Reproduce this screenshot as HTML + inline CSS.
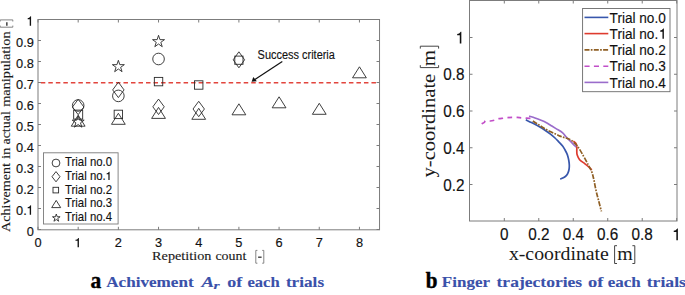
<!DOCTYPE html>
<html><head><meta charset="utf-8"><style>
html,body{margin:0;padding:0;background:#fff;width:685px;height:295px;overflow:hidden}
svg{display:block}
.s{font-family:"Liberation Sans",sans-serif}
.r{font-family:"Liberation Serif",serif}
</style></head><body>
<svg width="685" height="295" viewBox="0 0 685 295"><line x1="40.8" y1="82.8" x2="379.53" y2="82.8" stroke="#e2453d" stroke-width="1.6" stroke-dasharray="4.5 3.015"/>
<rect x="38.0" y="19.5" width="341.53" height="210.30" fill="none" stroke="#7c7c7c" stroke-width="1"/>
<path d="M38.00 229.8V226.8M38.00 19.5V22.5M78.18 229.8V226.8M78.18 19.5V22.5M118.36 229.8V226.8M118.36 19.5V22.5M158.54 229.8V226.8M158.54 19.5V22.5M198.72 229.8V226.8M198.72 19.5V22.5M238.90 229.8V226.8M238.90 19.5V22.5M279.08 229.8V226.8M279.08 19.5V22.5M319.26 229.8V226.8M319.26 19.5V22.5M359.44 229.8V226.8M359.44 19.5V22.5M38.0 229.50H41.0M379.53 229.50H376.53M38.0 208.50H41.0M379.53 208.50H376.53M38.0 187.50H41.0M379.53 187.50H376.53M38.0 166.50H41.0M379.53 166.50H376.53M38.0 145.50H41.0M379.53 145.50H376.53M38.0 124.50H41.0M379.53 124.50H376.53M38.0 103.50H41.0M379.53 103.50H376.53M38.0 82.50H41.0M379.53 82.50H376.53M38.0 61.50H41.0M379.53 61.50H376.53M38.0 40.50H41.0M379.53 40.50H376.53M38.0 19.50H41.0M379.53 19.50H376.53" stroke="#7c7c7c" stroke-width="1" fill="none"/>
<g class="s" font-size="12.8" fill="#111" stroke="#111" stroke-width="0.15"><text transform="translate(33.9 235.70) scale(1 1.05)" text-anchor="end">0</text><text transform="translate(26.78 214.70) scale(1 1.05)" text-anchor="end">0.</text><text transform="translate(33.9 193.70) scale(1 1.05)" text-anchor="end">0.2</text><text transform="translate(33.9 172.70) scale(1 1.05)" text-anchor="end">0.3</text><text transform="translate(33.9 151.70) scale(1 1.05)" text-anchor="end">0.4</text><text transform="translate(33.9 130.70) scale(1 1.05)" text-anchor="end">0.5</text><text transform="translate(33.9 109.70) scale(1 1.05)" text-anchor="end">0.6</text><text transform="translate(33.9 88.70) scale(1 1.05)" text-anchor="end">0.7</text><text transform="translate(33.9 67.70) scale(1 1.05)" text-anchor="end">0.8</text><text transform="translate(33.9 46.70) scale(1 1.05)" text-anchor="end">0.9</text><text transform="translate(38.00 247.3) scale(1 1.05)" text-anchor="middle">0</text><text transform="translate(118.36 247.3) scale(1 1.05)" text-anchor="middle">2</text><text transform="translate(158.54 247.3) scale(1 1.05)" text-anchor="middle">3</text><text transform="translate(198.72 247.3) scale(1 1.05)" text-anchor="middle">4</text><text transform="translate(238.90 247.3) scale(1 1.05)" text-anchor="middle">5</text><text transform="translate(279.08 247.3) scale(1 1.05)" text-anchor="middle">6</text><text transform="translate(319.26 247.3) scale(1 1.05)" text-anchor="middle">7</text><text transform="translate(359.44 247.3) scale(1 1.05)" text-anchor="middle">8</text></g>
<g class="r" font-size="11.6" fill="#1a1a1a" stroke="#1a1a1a" stroke-width="0.12"><text x="152.10" y="259.60" textLength="59.30" lengthAdjust="spacingAndGlyphs">Repetition</text><text x="215.40" y="259.60" textLength="31.00" lengthAdjust="spacingAndGlyphs">count</text><g transform="translate(9.8 0) rotate(-90)"><text x="-232.00" y="0.00" textLength="68.90" lengthAdjust="spacingAndGlyphs">Achivement</text><text x="-159.10" y="0.00" textLength="11.50" lengthAdjust="spacingAndGlyphs">in</text><text x="-144.60" y="0.00" textLength="33.50" lengthAdjust="spacingAndGlyphs">actual</text><text x="-106.80" y="0.00" textLength="75.40" lengthAdjust="spacingAndGlyphs">manipulation</text></g></g>
<path d="M257.40 250.40H255.80V263.20H257.40M262.20 250.40H263.80V263.20H262.20" fill="none" stroke="#777" stroke-width="0.9"/>
<path d="M258.1 257.2H261.6" stroke="#333" stroke-width="1.3"/>
<g transform="translate(9.8 0) rotate(-90)"><path d="M-25.60 -9.60H-27.20V3.00H-25.60M-21.50 -9.60H-19.90V3.00H-21.50" fill="none" stroke="#777" stroke-width="0.9"/><path d="M-25.7 -2.95H-22.3" stroke="#333" stroke-width="1.4"/></g>
<g fill="none" stroke="#2a2a2a" stroke-width="0.9"><circle cx="78.18" cy="105.50" r="5.8"/><path d="M78.18 99.30L83.88 107.00L78.18 114.70L72.48 107.00Z"/><rect x="73.68" y="110.10" width="9.00" height="9.00"/><path d="M78.18 115.20L85.08 126.20L71.28 126.20Z"/><polygon points="78.18,115.80 79.59,120.15 84.17,120.15 80.47,122.84 81.88,127.20 78.18,124.51 74.48,127.20 75.89,122.84 72.19,120.15 76.77,120.15"/><polygon points="118.36,60.30 119.77,64.65 124.35,64.65 120.65,67.34 122.06,71.70 118.36,69.01 114.66,71.70 116.07,67.34 112.37,64.65 116.95,64.65"/><path d="M118.36 82.20L124.06 89.90L118.36 97.60L112.66 89.90Z"/><circle cx="118.36" cy="95.90" r="5.8"/><rect x="114.16" y="110.20" width="8.40" height="8.40"/><path d="M118.36 113.30L125.26 124.30L111.46 124.30Z"/><polygon points="158.54,35.30 159.95,39.65 164.53,39.65 160.83,42.34 162.24,46.70 158.54,44.01 154.84,46.70 156.25,42.34 152.55,39.65 157.13,39.65"/><circle cx="158.54" cy="59.00" r="5.8"/><rect x="154.34" y="77.40" width="8.40" height="8.40"/><path d="M158.54 99.10L164.24 106.80L158.54 114.50L152.84 106.80Z"/><path d="M158.54 107.40L165.44 118.40L151.64 118.40Z"/><rect x="194.52" y="80.80" width="8.40" height="8.40"/><path d="M198.72 101.30L204.42 109.00L198.72 116.70L193.02 109.00Z"/><path d="M198.72 108.30L205.62 119.30L191.82 119.30Z"/><path d="M238.90 51.80L244.60 59.80L238.90 67.80L233.20 59.80Z"/><rect x="234.80" y="56.10" width="8.20" height="8.20"/><path d="M238.90 103.80L245.80 114.80L232.00 114.80Z"/><path d="M279.08 96.80L285.98 107.80L272.18 107.80Z"/><path d="M319.26 103.30L326.16 114.30L312.36 114.30Z"/><path d="M359.44 66.80L366.34 77.80L352.54 77.80Z"/></g>
<text transform="translate(257.6 58.6) scale(1 1.06)" class="s" font-size="11.2" fill="#111" stroke="#111" stroke-width="0.12" textLength="77.3" lengthAdjust="spacingAndGlyphs">Success criteria</text>
<line x1="282.3" y1="61.6" x2="254.5" y2="79.8" stroke="#111" stroke-width="1.2"/>
<path d="M251.6 81.7L253.3 76.9L256.8 81.2Z" fill="#111"/>
<rect x="43.5" y="152.8" width="74.6" height="71.2" fill="#fff" stroke="#7a7a7a" stroke-width="0.9"/>
<g fill="none" stroke="#2a2a2a" stroke-width="0.9"><circle cx="56.00" cy="163.00" r="3.9"/><path d="M56.00 171.60L60.00 176.70L56.00 181.80L52.00 176.70Z"/><rect x="53.00" y="187.30" width="5.60" height="5.60"/><path d="M56.20 200.40L60.70 207.60L51.70 207.60Z"/><polygon points="56.30,214.00 57.20,216.76 60.10,216.76 57.75,218.47 58.65,221.24 56.30,219.53 53.95,221.24 54.85,218.47 52.50,216.76 55.40,216.76"/></g>
<g class="s" font-size="11.4" fill="#111" stroke="#111" stroke-width="0.12"><text transform="translate(65.0 166.40) scale(1 1.04)">Trial no.0</text><text transform="translate(65.0 180.07) scale(1 1.04)">Trial no.</text><text transform="translate(65.0 193.74) scale(1 1.04)">Trial no.2</text><text transform="translate(65.0 207.41) scale(1 1.04)">Trial no.3</text><text transform="translate(65.0 221.08) scale(1 1.04)">Trial no.4</text></g>
<rect x="469.5" y="0.5" width="207.50" height="220.50" fill="none" stroke="#7c7c7c" stroke-width="1"/>
<path d="M504.30 221.0V218.0M504.30 0.5V3.5M538.78 221.0V218.0M538.78 0.5V3.5M573.26 221.0V218.0M573.26 0.5V3.5M607.74 221.0V218.0M607.74 0.5V3.5M642.22 221.0V218.0M642.22 0.5V3.5M676.70 221.0V218.0M676.70 0.5V3.5M469.5 184.50H472.50M677.0 184.50H674.00M469.5 147.75H472.50M677.0 147.75H674.00M469.5 111.00H472.50M677.0 111.00H674.00M469.5 74.25H472.50M677.0 74.25H674.00M469.5 37.50H472.50M677.0 37.50H674.00" stroke="#7c7c7c" stroke-width="1" fill="none"/>
<g class="s" font-size="15.3" fill="#111" stroke="#111" stroke-width="0.15"><text transform="translate(504.30 240.2) scale(1 1.12)" text-anchor="middle">0</text><text transform="translate(538.78 240.2) scale(1 1.12)" text-anchor="middle">0.2</text><text transform="translate(573.26 240.2) scale(1 1.12)" text-anchor="middle">0.4</text><text transform="translate(607.74 240.2) scale(1 1.12)" text-anchor="middle">0.6</text><text transform="translate(642.22 240.2) scale(1 1.12)" text-anchor="middle">0.8</text><text transform="translate(464.4 190.50) scale(1 1.12)" text-anchor="end">0.2</text><text transform="translate(464.4 153.75) scale(1 1.12)" text-anchor="end">0.4</text><text transform="translate(464.4 117.00) scale(1 1.12)" text-anchor="end">0.6</text><text transform="translate(464.4 80.25) scale(1 1.12)" text-anchor="end">0.8</text></g>
<g class="r" font-size="17.8" fill="#1a1a1a"><text x="508.90" y="259.60" textLength="100.00" lengthAdjust="spacingAndGlyphs">x-coordinate</text><text x="617.30" y="259.60" textLength="15.50" lengthAdjust="spacingAndGlyphs">m</text><g transform="translate(434.7 0) rotate(-90)"><text x="-177.40" y="0.00" textLength="103.60" lengthAdjust="spacingAndGlyphs">y-coordinate</text><text x="-66.20" y="0.00" textLength="16.40" lengthAdjust="spacingAndGlyphs">m</text></g></g>
<path d="M617.00 245.70H614.60V263.50H617.00M632.40 245.70H634.80V263.50H632.40" fill="none" stroke="#444" stroke-width="1"/>
<g transform="translate(434.7 0) rotate(-90)"><path d="M-65.20 -14.40H-67.60V3.90H-65.20M-48.60 -14.40H-46.20V3.90H-48.60" fill="none" stroke="#444" stroke-width="1"/></g>
<path d="M481.70 123.90C482.13 123.63 483.62 122.83 484.30 122.30C484.98 121.77 484.80 120.92 485.80 120.70C486.80 120.48 488.87 121.08 490.30 121.00C491.73 120.92 492.97 120.58 494.40 120.20C495.83 119.82 497.42 119.03 498.90 118.70C500.38 118.37 501.82 118.38 503.30 118.20C504.78 118.02 506.30 117.73 507.80 117.60C509.30 117.47 510.75 117.43 512.30 117.40C513.85 117.37 515.60 117.33 517.10 117.40C518.60 117.47 519.78 117.67 521.30 117.80C522.82 117.93 524.62 118.08 526.20 118.20C527.78 118.32 530.03 118.45 530.80 118.50" fill="none" stroke="#c24ec8" stroke-width="1.7" stroke-dasharray="4.7 4.4"/>
<path d="M525.80 119.80C526.83 120.30 529.80 121.68 532.00 122.80C534.20 123.92 536.83 125.27 539.00 126.50C541.17 127.73 543.03 128.88 545.00 130.20C546.97 131.52 549.13 133.10 550.80 134.40C552.47 135.70 553.72 136.80 555.00 138.00C556.28 139.20 557.20 140.23 558.50 141.60C559.80 142.97 561.67 144.72 562.80 146.20C563.93 147.68 564.63 149.30 565.30 150.50C565.97 151.70 566.37 152.40 566.80 153.40C567.23 154.40 567.57 155.32 567.90 156.50C568.23 157.68 568.57 159.08 568.80 160.50C569.03 161.92 569.25 163.58 569.30 165.00C569.35 166.42 569.30 167.73 569.10 169.00C568.90 170.27 568.53 171.53 568.10 172.60C567.67 173.67 567.22 174.58 566.50 175.40C565.78 176.22 564.85 176.88 563.80 177.50C562.75 178.12 560.80 178.83 560.20 179.10" fill="none" stroke="#3857ac" stroke-width="1.7" stroke-linejoin="round"/>
<path d="M573.30 141.20C573.62 141.43 574.68 142.03 575.20 142.60C575.72 143.17 576.13 143.78 576.40 144.60C576.67 145.42 576.73 146.35 576.80 147.50C576.87 148.65 576.73 150.25 576.80 151.50C576.87 152.75 576.73 153.63 577.20 155.00C577.67 156.37 578.30 158.23 579.60 159.70C580.90 161.17 583.43 162.55 585.00 163.80C586.57 165.05 587.87 166.18 589.00 167.20C590.13 168.22 591.33 169.45 591.80 169.90" fill="none" stroke="#de3b2e" stroke-width="1.7" stroke-linejoin="round"/>
<path d="M529.10 116.10C530.08 116.42 533.02 117.30 535.00 118.00C536.98 118.70 539.17 119.55 541.00 120.30C542.83 121.05 544.37 121.65 546.00 122.50C547.63 123.35 549.13 124.38 550.80 125.40C552.47 126.42 554.02 127.37 556.00 128.60C557.98 129.83 561.03 131.43 562.70 132.80C564.37 134.17 564.95 135.63 566.00 136.80C567.05 137.97 567.92 138.72 569.00 139.80C570.08 140.88 571.30 142.07 572.50 143.30C573.70 144.53 575.58 146.55 576.20 147.20" fill="none" stroke="#9a6ccb" stroke-width="1.7" stroke-linejoin="round"/>
<path d="M532.80 121.00C533.67 121.55 536.18 123.13 538.00 124.30C539.82 125.47 541.87 126.88 543.70 128.00C545.53 129.12 547.02 130.00 549.00 131.00C550.98 132.00 553.77 133.15 555.60 134.00C557.43 134.85 558.60 135.52 560.00 136.10C561.40 136.68 562.75 137.10 564.00 137.50C565.25 137.90 566.27 138.02 567.50 138.50C568.73 138.98 569.73 139.12 571.40 140.40C573.07 141.68 575.47 143.55 577.50 146.20C579.53 148.85 581.78 153.13 583.60 156.30C585.42 159.47 587.03 162.58 588.40 165.20C589.77 167.82 590.90 169.63 591.80 172.00C592.70 174.37 593.10 176.33 593.80 179.40C594.50 182.47 595.20 186.87 596.00 190.40C596.80 193.93 597.70 197.10 598.60 200.60C599.50 204.10 600.93 209.60 601.40 211.40" fill="none" stroke="#8f5f24" stroke-width="1.7" stroke-dasharray="5 1.3 1.7 1.3"/>
<rect x="582.6" y="8.5" width="87.4" height="83.2" fill="#fff" stroke="#6a6a6a" stroke-width="0.9"/>
<line x1="584.5" y1="17.4" x2="608.3" y2="17.4" stroke="#3857ac" stroke-width="1.6"/><line x1="584.5" y1="33.6" x2="608.3" y2="33.6" stroke="#de3b2e" stroke-width="1.6"/><line x1="584.5" y1="49.9" x2="608.3" y2="49.9" stroke="#8f5f24" stroke-width="1.6" stroke-dasharray="5 1.3 1.7 1.3"/><line x1="584.5" y1="66.2" x2="608.3" y2="66.2" stroke="#c24ec8" stroke-width="1.6" stroke-dasharray="5.1 4.3"/><line x1="584.5" y1="82.4" x2="608.3" y2="82.4" stroke="#9a6ccb" stroke-width="1.6"/>
<g class="s" font-size="13.6" fill="#111" stroke="#111" stroke-width="0.12"><text transform="translate(609.6 22.60) scale(1 1.08)">Trial no.0</text><text transform="translate(609.6 38.85) scale(1 1.08)">Trial no.</text><text transform="translate(609.6 55.10) scale(1 1.08)">Trial no.2</text><text transform="translate(609.6 71.35) scale(1 1.08)">Trial no.3</text><text transform="translate(609.6 87.60) scale(1 1.08)">Trial no.4</text></g>
<g class="r" font-weight="bold"><text transform="translate(90.5 287.6) scale(1 1.06)" font-size="21.5" fill="#000" stroke="#000" stroke-width="0.4">a</text><text transform="translate(425.8 287.5) scale(1 1.05)" font-size="21" fill="#000" stroke="#000" stroke-width="0.45">b</text><g font-size="14.4" fill="#3a51aa" stroke="#3a51aa" stroke-width="0.1"><text x="106.20" y="286.80" textLength="87.50" lengthAdjust="spacingAndGlyphs">Achivement</text><text x="201.6" y="286.8" font-style="italic" textLength="12.6" lengthAdjust="spacingAndGlyphs">A</text><text x="213.4" y="288.8" font-size="10.5" font-style="italic" textLength="6.2" lengthAdjust="spacingAndGlyphs">r</text><text x="227.20" y="286.80" textLength="15.00" lengthAdjust="spacingAndGlyphs">of</text><text x="247.40" y="286.80" textLength="32.30" lengthAdjust="spacingAndGlyphs">each</text><text x="285.90" y="286.80" textLength="38.20" lengthAdjust="spacingAndGlyphs">trials</text><text x="441.80" y="286.80" textLength="48.20" lengthAdjust="spacingAndGlyphs">Finger</text><text x="496.50" y="286.80" textLength="85.70" lengthAdjust="spacingAndGlyphs">trajectories</text><text x="588.00" y="286.80" textLength="15.40" lengthAdjust="spacingAndGlyphs">of</text><text x="607.70" y="286.80" textLength="33.00" lengthAdjust="spacingAndGlyphs">each</text><text x="646.70" y="286.80" textLength="39.30" lengthAdjust="spacingAndGlyphs">trials</text></g></g>
<path d="M31.08 205.29L31.08 214.70L29.73 214.70L29.73 208.21L27.66 208.21L27.66 207.17Q29.32 207.17 30.54 205.29ZM31.08 16.29L31.08 25.70L29.73 25.70L29.73 19.21L27.66 19.21L27.66 18.17Q29.32 18.17 30.54 16.29ZM78.92 237.89L78.92 247.30L77.57 247.30L77.57 240.81L75.50 240.81L75.50 239.77Q77.16 239.77 78.38 237.89ZM109.59 171.77L109.59 180.07L108.39 180.07L108.39 174.34L106.56 174.34L106.56 173.43Q108.02 173.43 109.11 171.77ZM677.89 228.38L677.89 240.20L676.34 240.20L676.34 232.04L673.74 232.04L673.74 230.74Q675.82 230.74 677.27 228.38ZM461.34 31.68L461.34 43.50L459.79 43.50L459.79 35.34L457.19 35.34L457.19 34.04Q459.27 34.04 460.72 31.68ZM663.88 28.57L663.88 38.85L662.48 38.85L662.48 31.76L660.22 31.76L660.22 30.62Q662.03 30.62 663.32 28.57Z" fill="#111"/></svg>
</body></html>
